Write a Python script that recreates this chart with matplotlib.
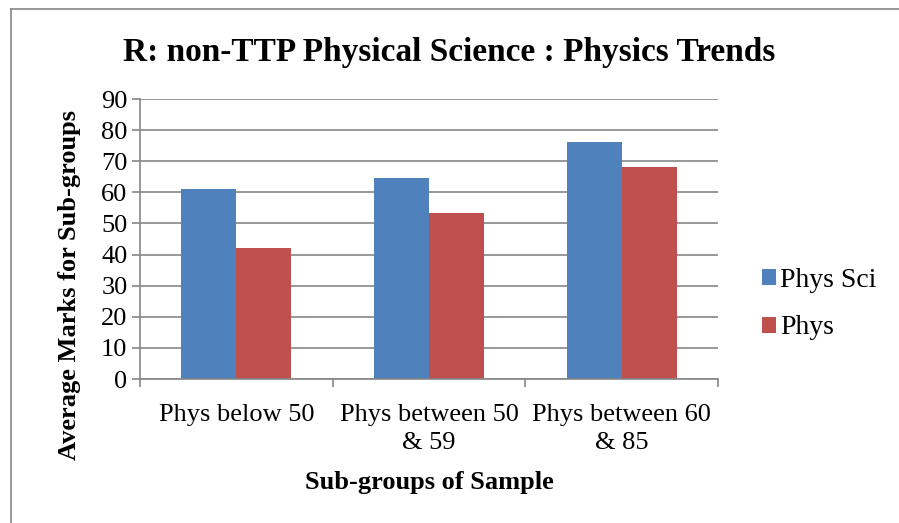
import matplotlib.pyplot as plt
import numpy as np
from matplotlib.lines import Line2D

categories = ['Phys below 50', 'Phys between 50\n& 59', 'Phys between 60\n& 85']
phys_sci = [61.2, 64.5, 76.3]
phys = [42.0, 53.5, 68.2]
series_names = ['Phys Sci', 'Phys']

plt.rcParams['font.family'] = ['Liberation Serif', 'DejaVu Serif']

fig = plt.figure(figsize=(8.99, 5.23), dpi=100)
ax = fig.add_axes([0.1557, 0.2753, 0.6430, 0.5354])

grey = '#868686'
x = np.arange(len(categories))
w = 0.286
ax.bar(x - w / 2, phys_sci, w, color='#4F81BD', label=series_names[0])
ax.bar(x + w / 2, phys, w, color='#C0504D', label=series_names[1])

ax.set_xlim(-0.5, len(categories) - 0.5)
ax.set_ylim(0, 90)
ax.set_yticks(np.arange(0, 91, 10))
ax.yaxis.grid(True, color=grey, linewidth=1.2)
ax.set_axisbelow(True)
for s in ['top', 'right']:
    ax.spines[s].set_visible(False)
for s in ['left', 'bottom']:
    ax.spines[s].set_color(grey)
    ax.spines[s].set_linewidth(1.2)

# category labels between the boundary ticks
ax.set_xticks(np.arange(-0.5, len(categories), 1.0))
ax.set_xticklabels([])
ax.set_xticks(x, minor=True)
ax.set_xticklabels(categories, minor=True, fontsize=19, linespacing=1.35)
ax.tick_params(axis='x', which='minor', length=0, pad=18)
ax.tick_params(axis='x', which='major', length=6, color=grey, width=1.2)
ax.tick_params(axis='y', length=6, color=grey, width=1.2, labelsize=19, pad=3)

ax.set_xlabel('Sub-groups of Sample', fontsize=19, fontweight='bold')
ax.xaxis.set_label_coords(0.5, -0.328)
ax.set_ylabel('Average Marks for Sub-groups', fontsize=19, fontweight='bold')
ax.yaxis.set_label_coords(-0.102, 0.336)
fig.suptitle('R: non-TTP Physical Science : Physics Trends', fontsize=24,
             fontweight='bold', x=0.5, y=0.93)

fig.legend(loc='center left', bbox_to_anchor=(0.82, 0.418), frameon=False,
           fontsize=20, handlelength=0.5, handleheight=0.5, handletextpad=0.15,
           labelspacing=0.8)

# chart area border (left and top only visible)
fig.add_artist(Line2D([11 / 899, 11 / 899], [0, 1 - 9 / 523], color=grey, lw=1.2,
                      transform=fig.transFigure))
fig.add_artist(Line2D([11 / 899, 1], [1 - 9 / 523, 1 - 9 / 523], color=grey, lw=1.2,
                      transform=fig.transFigure))

plt.savefig('out.png')
